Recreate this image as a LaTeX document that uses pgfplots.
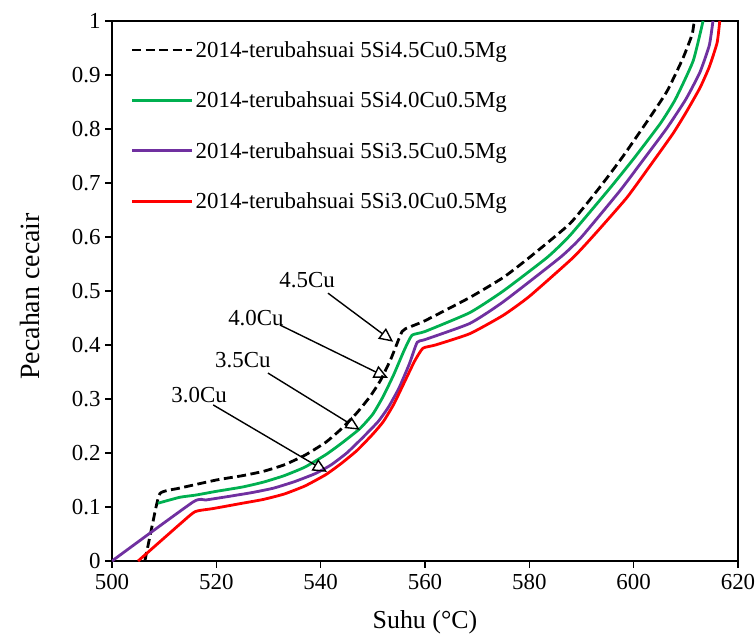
\documentclass[border=0pt]{standalone}
\usepackage{pgfplots}
\pgfplotsset{compat=1.18}
\usepackage{fontspec}
\setmainfont{Liberation Serif}
\usetikzlibrary{arrows.meta}
\definecolor{cgreen}{RGB}{0,176,80}
\definecolor{cpurple}{RGB}{112,48,160}
\definecolor{cred}{RGB}{255,0,0}
\begin{document}
\begin{tikzpicture}
\useasboundingbox (-112bp,-77bp) rectangle (643bp,561bp);
\begin{axis}[at={(0,0)}, anchor=south west, scale only axis,
  width=626bp, height=540bp,
  xmin=500, xmax=620, ymin=0, ymax=1,
  xtick={500,520,540,560,580,600,620},
  ytick={0,0.1,0.2,0.3,0.4,0.5,0.6,0.7,0.8,0.9,1},
  tick align=outside, xtick pos=left, ytick pos=left,
  major tick length=7bp,
  axis line style={line width=1.2bp},
  every tick/.style={black, line width=1.2bp},
  tick label style={font=\fontsize{23}{27}\selectfont},
  xticklabel style={yshift=-3bp},
  yticklabel style={/pgf/number format/fixed, /pgf/number format/precision=1, xshift=-1bp},
  /pgf/number format/assume math mode=true,
  xlabel={Suhu (°C)}, ylabel={Pecahan cecair},
  xlabel style={at={(rel axis cs:0.5,0)}, anchor=center, yshift=-61bp, font=\fontsize{26}{30}\selectfont},
  ylabel style={at={(axis description cs:-0.131,0.49)}, anchor=center, font=\fontsize{28}{32}\selectfont},
  legend style={at={(rel axis cs:0.025,0.97)}, anchor=north west, draw=none, fill=none,
    font=\fontsize{23}{27}\selectfont, row sep=29bp,
    nodes={inner sep=2bp}},
  legend cell align=left,
  legend image code/.code={\draw[#1] (0bp,0bp) -- (60bp,0bp);},
  every axis plot/.append style={smooth, tension=0.3},
]
\addplot[black, line width=2.8bp, dash pattern=on 9bp off 4.5bp] coordinates {
(506.3,0) (507.8,0.07) (509.2,0.125) (513,0.135) (520,0.15) (525,0.158) (529,0.166)
(533,0.178) (537,0.196) (541,0.22) (544,0.245) (547,0.275) (549.5,0.305) (551.5,0.335)
(553.5,0.375) (555.6,0.425) (557,0.433) (560,0.445) (568.6,0.488) (575,0.525) (580,0.562)
(587.8,0.625) (593.5,0.692) (598,0.75) (603,0.82) (606.4,0.87) (609.4,0.93) (611.2,0.975) (611.6,1)};
\addlegendentry{2014-terubahsuai 5Si4.5Cu0.5Mg}
\addplot[cgreen, line width=2.8bp] coordinates {
(508.8,0.107) (513,0.118) (516,0.122) (520,0.129) (525,0.137) (529,0.146) (533,0.158)
(537,0.174) (541,0.197) (544,0.218) (547.5,0.245) (550,0.272) (552,0.305) (554,0.345)
(556,0.39) (557.5,0.418) (560,0.425) (568.6,0.46) (575,0.5) (583.4,0.562) (587.8,0.603)
(595.5,0.691) (600,0.745) (605.1,0.81) (608,0.855) (611.4,0.926) (613.3,1)};
\addlegendentry{2014-terubahsuai 5Si4.0Cu0.5Mg}
\addplot[cpurple, line width=2.8bp] coordinates {
(500,0) (515.5,0.109) (518,0.113) (522,0.119) (527,0.127) (531,0.135) (535,0.147)
(539,0.162) (542,0.178) (545,0.2) (548,0.228) (551,0.258) (553,0.285) (555,0.32)
(557,0.365) (558.5,0.405) (560,0.41) (568.6,0.44) (575,0.48) (585.9,0.562) (590,0.6)
(597.4,0.686) (602,0.745) (606.4,0.802) (610,0.855) (612.7,0.905) (614.5,0.955) (615.2,1)};
\addlegendentry{2014-terubahsuai 5Si3.5Cu0.5Mg}
\addplot[cred, line width=2.8bp] coordinates {
(505,0) (515,0.085) (516.5,0.093) (519.3,0.097) (525,0.107) (529,0.114) (533,0.124)
(537,0.139) (541,0.16) (544,0.181) (547,0.205) (550,0.235) (552,0.258) (554,0.29)
(556,0.33) (558,0.37) (559.6,0.394) (562,0.4) (568.6,0.421) (575,0.455) (580,0.49)
(588.4,0.562) (593,0.61) (598.7,0.673) (603,0.73) (607.5,0.791) (610,0.83) (612.7,0.876)
(614.5,0.915) (616,0.96) (616.5,1)};
\addlegendentry{2014-terubahsuai 5Si3.0Cu0.5Mg}
\node[font=\fontsize{23}{27}\selectfont] at (axis cs:537.4,0.52) {4.5Cu};
\node[font=\fontsize{23}{27}\selectfont] at (axis cs:527.6,0.45) {4.0Cu};
\node[font=\fontsize{23}{27}\selectfont] at (axis cs:525.1,0.372) {3.5Cu};
\node[font=\fontsize{23}{27}\selectfont] at (axis cs:516.7,0.307) {3.0Cu};
\draw[-{Triangle[open,length=14bp,width=13bp]}, line width=1.4bp] (axis cs:541.4,0.496) -- (axis cs:553.9,0.406);
\draw[-{Triangle[open,length=14bp,width=13bp]}, line width=1.4bp] (axis cs:532.2,0.437) -- (axis cs:552.9,0.339);
\draw[-{Triangle[open,length=14bp,width=13bp]}, line width=1.4bp] (axis cs:529.9,0.348) -- (axis cs:547.5,0.243);
\draw[-{Triangle[open,length=14bp,width=13bp]}, line width=1.4bp] (axis cs:519.4,0.289) -- (axis cs:541.2,0.165);
\end{axis}
\end{tikzpicture}
\end{document}
